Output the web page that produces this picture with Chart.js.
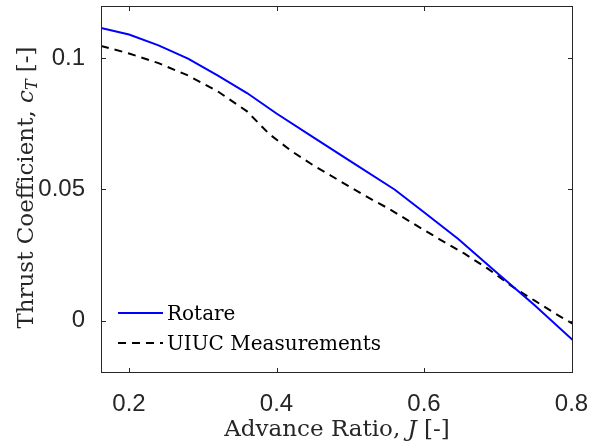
<!DOCTYPE html>
<html>
<head>
<meta charset="utf-8">
<title>Thrust Coefficient vs Advance Ratio</title>
<script src="https://cdn.jsdelivr.net/npm/chart.js@4/dist/chart.umd.min.js"></script>
<style>
  html, body { margin: 0; padding: 0; background: #ffffff; }
  #wrap { width: 595px; height: 446px; }
</style>
</head>
<body>
<div id="wrap"><canvas id="c" width="595" height="446"></canvas></div>
<script>
// Advance ratio J and thrust coefficient c_T for each series
const jRotare  = [0.162, 0.200, 0.240, 0.280, 0.320, 0.360, 0.400, 0.450, 0.500, 0.560, 0.600, 0.646, 0.700, 0.750, 0.802];
const ctRotare = [0.1116, 0.1091, 0.1050, 0.0999, 0.0935, 0.0868, 0.0790, 0.0699, 0.0608, 0.0500, 0.0413, 0.0312, 0.0180, 0.0058, -0.0075];

const jUiuc  = [0.162, 0.200, 0.240, 0.280, 0.320, 0.360, 0.390, 0.420, 0.450, 0.485, 0.520, 0.552, 0.586, 0.620, 0.655, 0.687, 0.721, 0.750, 0.786, 0.802];
const ctUiuc = [0.1048, 0.1019, 0.0982, 0.0935, 0.0875, 0.0798, 0.0712, 0.0647, 0.0592, 0.0534, 0.0476, 0.0427, 0.0369, 0.0312, 0.0255, 0.0197, 0.0127, 0.0076, 0.0013, -0.0013];

const seriesNames = ['Rotare', 'UIUC Measurements'];

// Tick positions and axis limits
const xTicks = [0.2, 0.4, 0.6, 0.8];
const yTicks = [0, 0.05, 0.1];
const xLimits = [0.162, 0.802];
const yLimits = [-0.02, 0.12];

const AXIS_COLOR = '#262626';
const SERIF = '"DejaVu Serif", "Liberation Serif", serif';

const toPoints = (xs, ys) => xs.map((x, i) => ({ x: x, y: ys[i] }));

// Box around the plot area with inward-pointing ticks on all four sides
const framePlugin = {
  id: 'frame',
  afterDatasetsDraw(chart) {
    const { ctx, chartArea: a, scales } = chart;
    const tl = 5;
    ctx.save();
    ctx.strokeStyle = AXIS_COLOR;
    ctx.lineWidth = 1;
    ctx.strokeRect(a.left + 0.5, a.top + 0.5, a.right - a.left - 1, a.bottom - a.top - 1);
    ctx.beginPath();
    scales.x.ticks.forEach(t => {
      const px = Math.round(scales.x.getPixelForValue(t.value)) + 0.5;
      ctx.moveTo(px, a.bottom); ctx.lineTo(px, a.bottom - tl);
      ctx.moveTo(px, a.top); ctx.lineTo(px, a.top + tl);
    });
    scales.y.ticks.forEach(t => {
      const py = Math.round(scales.y.getPixelForValue(t.value)) + 0.5;
      ctx.moveTo(a.left, py); ctx.lineTo(a.left + tl, py);
      ctx.moveTo(a.right, py); ctx.lineTo(a.right - tl, py);
    });
    ctx.stroke();
    ctx.restore();
  }
};

// Draws a run of text pieces (roman / italic / subscript) centred on (x, y)
function drawRich(ctx, parts, x, y, angle) {
  ctx.save();
  ctx.translate(x, y);
  ctx.rotate(angle);
  ctx.textAlign = 'left';
  ctx.textBaseline = 'alphabetic';
  let total = 0;
  parts.forEach(p => { ctx.font = p.font; total += ctx.measureText(p.text).width; });
  let cx = -total / 2;
  parts.forEach(p => {
    ctx.font = p.font;
    ctx.fillText(p.text, cx, p.dy || 0);
    cx += ctx.measureText(p.text).width;
  });
  ctx.restore();
}

// Axis titles with italic symbols
const titlesPlugin = {
  id: 'axisTitles',
  afterDraw(chart) {
    const { ctx, chartArea: a } = chart;
    const roman = '23px ' + SERIF;
    const italic = 'italic 23px ' + SERIF;
    const sub = 'italic 16px ' + SERIF;
    ctx.save();
    ctx.fillStyle = AXIS_COLOR;
    drawRich(ctx, [
      { text: 'Advance Ratio, ', font: roman },
      { text: 'J', font: italic },
      { text: ' [-]', font: roman }
    ], (a.left + a.right) / 2, 436, 0);
    drawRich(ctx, [
      { text: 'Thrust Coefficient, ', font: roman },
      { text: 'c', font: italic },
      { text: 'T', font: sub, dy: 4 },
      { text: ' [-]', font: roman }
    ], 33, (a.top + a.bottom) / 2 - 2, -Math.PI / 2);
    ctx.restore();
  }
};

// Legend in the lower-left corner of the plot area, without a box
const legendPlugin = {
  id: 'cornerLegend',
  afterDraw(chart) {
    const { ctx, chartArea: a } = chart;
    const rowsY = [a.bottom - 60, a.bottom - 30];
    ctx.save();
    ctx.font = '20px ' + SERIF;
    ctx.textAlign = 'left';
    ctx.textBaseline = 'alphabetic';
    chart.data.datasets.forEach((ds, i) => {
      const y = rowsY[i];
      ctx.strokeStyle = ds.borderColor;
      ctx.lineWidth = ds.borderWidth;
      ctx.setLineDash(ds.borderDash || []);
      ctx.beginPath();
      ctx.moveTo(a.left + 17, y);
      ctx.lineTo(a.left + 62, y);
      ctx.stroke();
      ctx.setLineDash([]);
      ctx.fillStyle = '#000000';
      ctx.fillText(ds.label, a.left + 66, y + 7);
    });
    ctx.restore();
  }
};

new Chart(document.getElementById('c'), {
  type: 'line',
  data: {
    datasets: [
      {
        label: seriesNames[0],
        data: toPoints(jRotare, ctRotare),
        borderColor: '#0000ff',
        borderWidth: 2,
        pointRadius: 0,
        tension: 0,
        fill: false
      },
      {
        label: seriesNames[1],
        data: toPoints(jUiuc, ctUiuc),
        borderColor: '#000000',
        borderWidth: 2,
        borderDash: [8, 6],
        pointRadius: 0,
        tension: 0,
        fill: false
      }
    ]
  },
  options: {
    responsive: false,
    animation: false,
    devicePixelRatio: 1,
    layout: { padding: { top: 6, right: 22, left: 0, bottom: 0 } },
    plugins: {
      legend: { display: false },
      tooltip: { enabled: false }
    },
    scales: {
      x: {
        type: 'linear',
        min: xLimits[0],
        max: xLimits[1],
        grid: { display: false },
        border: { display: false },
        afterBuildTicks: s => { s.ticks = xTicks.map(v => ({ value: v })); },
        afterFit: s => { s.height = 73; s.paddingLeft = 0; s.paddingRight = 0; },
        ticks: {
          padding: 9,
          color: AXIS_COLOR,
          font: { family: '"Liberation Sans", Arial, sans-serif', size: 24 },
          callback: v => String(v)
        }
      },
      y: {
        type: 'linear',
        min: yLimits[0],
        max: yLimits[1],
        grid: { display: false },
        border: { display: false },
        afterBuildTicks: s => { s.ticks = yTicks.map(v => ({ value: v })); },
        afterFit: s => { s.width = 101; s.paddingTop = 0; s.paddingBottom = 0; },
        ticks: {
          padding: 8,
          color: AXIS_COLOR,
          font: { family: '"Liberation Sans", Arial, sans-serif', size: 24 },
          callback: v => String(v)
        }
      }
    }
  },
  plugins: [framePlugin, titlesPlugin, legendPlugin]
});
</script>
</body>
</html>
